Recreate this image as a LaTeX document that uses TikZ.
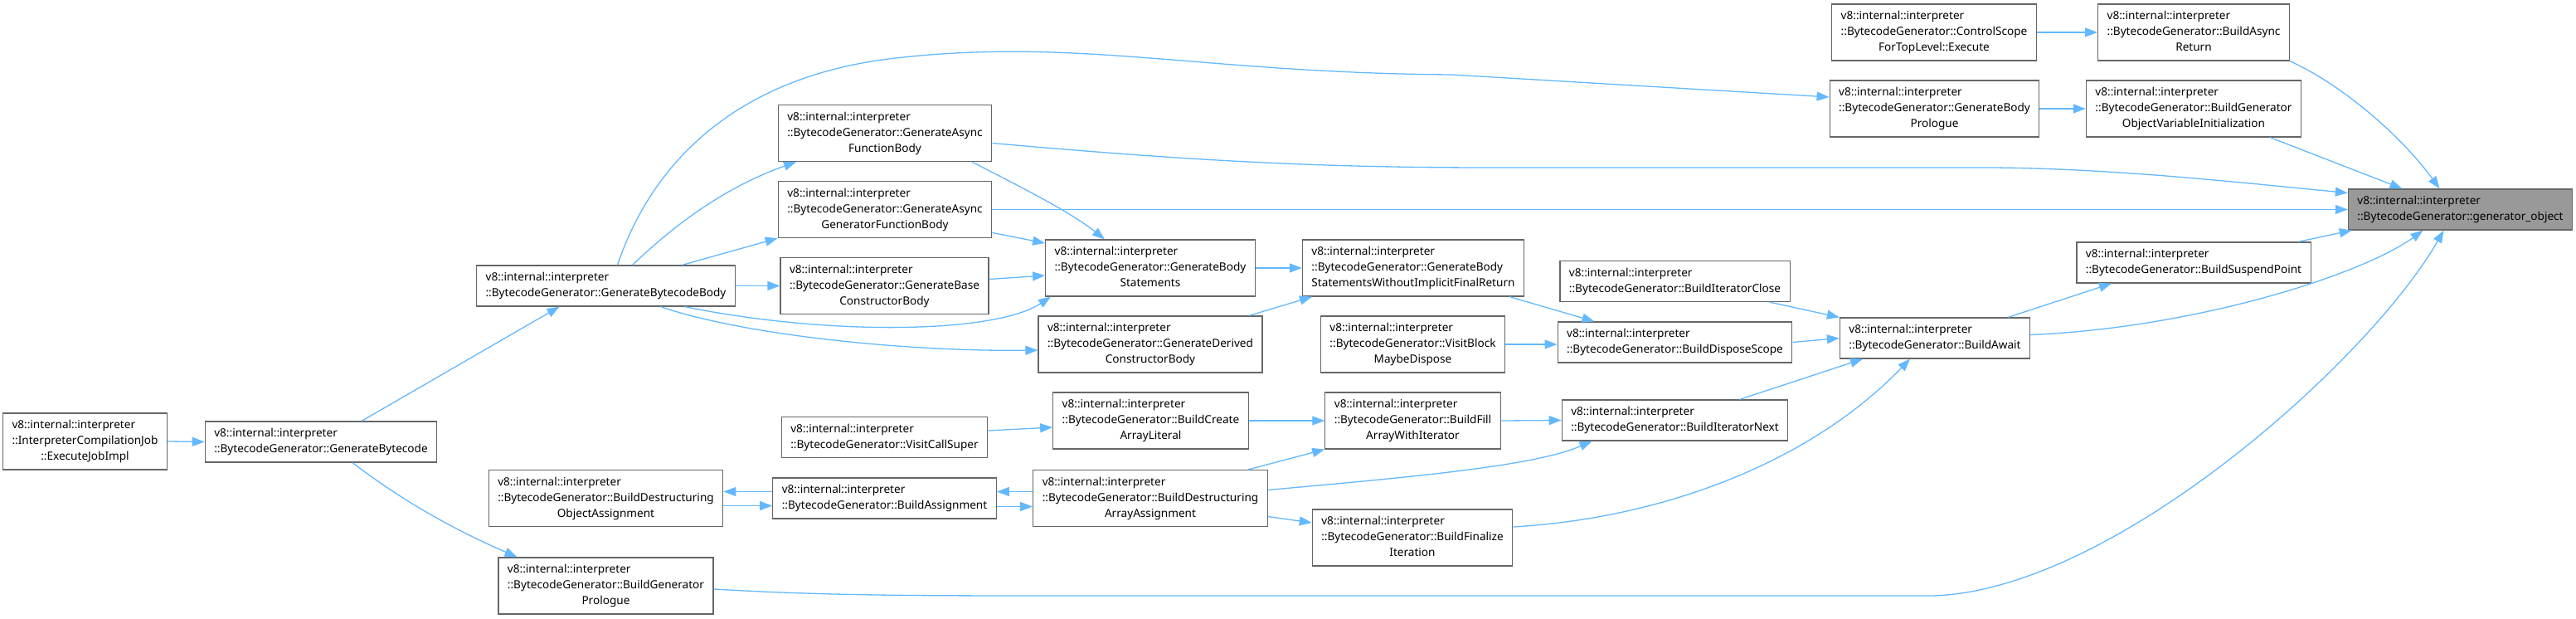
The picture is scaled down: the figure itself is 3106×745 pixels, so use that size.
\documentclass[tikz,border=0pt]{standalone}
\usepackage{fontspec}
\setmainfont{Noto Sans}
\usepackage{tikz}
\usetikzlibrary{arrows.meta}
\usetikzlibrary{calc}

\definecolor{edgeblue}{HTML}{63B8FF}
\definecolor{boxgray}{HTML}{666666}
\definecolor{selfgray}{HTML}{999999}

% label of one function box: first line is always the namespace
\newcommand{\calltwo}[1]{\begin{tabular}{@{}l@{}}v8::internal::interpreter\\#1\end{tabular}}
\newcommand{\callthree}[2]{\begin{tabular}{@{}l@{}}v8::internal::interpreter\\#1\\\multicolumn{1}{@{}c@{}}{#2}\end{tabular}}

\begin{document}
\begin{tikzpicture}[
    x=1pt, y=-1pt,
    font=\fontsize{13.6}{19}\selectfont,
    % function boxes
    fn/.style={rectangle, draw=boxgray, line width=1.2pt, fill=white, inner xsep=11pt, inner ysep=5.5pt},
    self/.style={fn, fill=selfgray},
    edge/.style={draw=edgeblue, line width=1.3pt, -{Triangle[length=15pt,width=11pt]}},
]
\useasboundingbox (0,0) rectangle (3106,745);

% =========================================================
% nodes (column by column, left to right)
% =========================================================
\node[fn] (execjob) at (102.5,532) {\callthree{::InterpreterCompilationJob}{::ExecuteJobImpl}};

\node[fn] (genbc) at (387,532.5) {\calltwo{::BytecodeGenerator::GenerateBytecode}};

\node[fn] (genbcbody) at (730.5,344.5) {\calltwo{::BytecodeGenerator::GenerateBytecodeBody}};
\node[fn] (destobj)   at (730.5,600.5) {\callthree{::BytecodeGenerator::BuildDestructuring}{ObjectAssignment}};
\node[fn] (genprol)   at (730.5,706)   {\callthree{::BytecodeGenerator::BuildGenerator}{Prologue}};

\node[fn] (asyncfn)   at (1067,160.5)   {\callthree{::BytecodeGenerator::GenerateAsync}{FunctionBody}};
\node[fn] (asyncgen)  at (1067,252.5)   {\callthree{::BytecodeGenerator::GenerateAsync}{GeneratorFunctionBody}};
\node[fn] (basector)  at (1066.5,344.5) {\callthree{::BytecodeGenerator::GenerateBase}{ConstructorBody}};
\node[fn] (callsuper) at (1066.5,527)   {\calltwo{::BytecodeGenerator::VisitCallSuper}};
\node[fn] (assign)    at (1066.5,600.5) {\calltwo{::BytecodeGenerator::BuildAssignment}};

\node[fn] (bodystmt)    at (1387,323)   {\callthree{::BytecodeGenerator::GenerateBody}{Statements}};
\node[fn] (derivedctor) at (1387,415)   {\callthree{::BytecodeGenerator::GenerateDerived}{ConstructorBody}};
\node[fn] (arrlit)      at (1387.5,507) {\callthree{::BytecodeGenerator::BuildCreate}{ArrayLiteral}};
\node[fn] (destarr)     at (1387,600.5) {\callthree{::BytecodeGenerator::BuildDestructuring}{ArrayAssignment}};

\node[fn] (bodynoret)  at (1704,323)   {\callthree{::BytecodeGenerator::GenerateBody}{StatementsWithoutImplicitFinalReturn}};
\node[fn] (visitblock) at (1703.5,415) {\callthree{::BytecodeGenerator::VisitBlock}{MaybeDispose}};
\node[fn] (fillarr)    at (1703.5,507) {\callthree{::BytecodeGenerator::BuildFill}{ArrayWithIterator}};
\node[fn] (finalize)   at (1703,648)   {\callthree{::BytecodeGenerator::BuildFinalize}{Iteration}};

\node[fn] (itclose) at (2019.5,339)   {\calltwo{::BytecodeGenerator::BuildIteratorClose}};
\node[fn] (dispose) at (2019.5,412.5) {\calltwo{::BytecodeGenerator::BuildDisposeScope}};
\node[fn] (itnext)  at (2019.5,506.5) {\calltwo{::BytecodeGenerator::BuildIteratorNext}};

\node[fn] (ctlscope) at (2332,39)    {\callthree{::BytecodeGenerator::ControlScope}{ForTopLevel::Execute}};
\node[fn] (bodyprol) at (2332.5,131) {\callthree{::BytecodeGenerator::GenerateBody}{Prologue}};
\node[fn] (await)    at (2333,407.5) {\calltwo{::BytecodeGenerator::BuildAwait}};

\node[fn] (asyncret)   at (2645,39)    {\callthree{::BytecodeGenerator::BuildAsync}{Return}};
\node[fn] (genobjinit) at (2645,131)   {\callthree{::BytecodeGenerator::BuildGenerator}{ObjectVariableInitialization}};
\node[fn] (suspend)    at (2645,316.5) {\calltwo{::BytecodeGenerator::BuildSuspendPoint}};

\node[self] (genobj) at (2966.5,252.5) {\calltwo{::BytecodeGenerator::generator\_object}};

% =========================================================
% calls (arrow points at the callee)
% =========================================================
\draw[edge] (execjob.east) -- (genbc.west);
\draw[edge] ([xshift=49]genbc.north) -- ([xshift=-56]genbcbody.south);
\draw[edge] ([xshift=38]genbc.south) .. controls (500,615) and (570,648) .. ([xshift=-107]genprol.north);

\draw[edge] ([xshift=32]genbcbody.north) .. controls (830,255) and (890,220) .. ([xshift=-107]asyncfn.south);
\draw[edge] ([xshift=92]genbcbody.north) -- (asyncgen.south west);
\draw[edge] (genbcbody.east) -- (basector.west);
\draw[edge] ([xshift=95]genbcbody.south) .. controls (1000,405) and (1200,402) .. ([xshift=-120]bodystmt.south);
\draw[edge] ([xshift=66]genbcbody.south) .. controls (900,405) and (1100,424) .. ([yshift=-7]derivedctor.west);
\draw[edge] ([xshift=14]genbcbody.north) .. controls (790,185) and (900,90) .. (1080,70)
    .. controls (1300,45) and (1450,88) .. (1750,90) -- ([yshift=14]bodyprol.west);

\draw[edge] ([yshift=-12]asyncfn.east) .. controls (1450,195) and (1600,202) .. (1800,202)
    -- (2400,202) .. controls (2550,203) and (2700,220) .. ([yshift=20]genobj.west);
\draw[edge] ([xshift=105]asyncfn.south) .. controls (1230,225) and (1290,255) .. ([xshift=-55]bodystmt.north);
\draw[edge] (asyncgen.east) -- (genobj.west);
\draw[edge] ([yshift=-28]asyncgen.east) -- ([yshift=30]bodystmt.west);
\draw[edge] ([yshift=8]basector.east) -- ([yshift=-9]bodystmt.west);

\draw[edge] (bodystmt.east) -- (bodynoret.west);
\draw[edge] ([xshift=119]derivedctor.north) -- ([xshift=-122]bodynoret.south);
\draw[edge] ([xshift=116]bodynoret.south) -- ([xshift=-97]dispose.north);
\draw[edge] (visitblock.east) -- (visitblock.east -| dispose.west);

\draw[edge] ([xshift=114]itclose.south) -- (await.north west);
\draw[edge] (dispose.east) -- (await.west);
\draw[edge] ([xshift=78]itnext.north) -- ([xshift=-87]await.south);
\draw[edge] ([yshift=13]finalize.east) .. controls (2000,625) and (2180,560) .. ([xshift=-30]await.south);

\draw[edge] ([xshift=88]await.north) -- ([xshift=-99]suspend.south);
\draw[edge] ([yshift=4]await.east) .. controls (2650,395) and (2850,330) .. ([xshift=-45]genobj.south);
\draw[edge] ([xshift=126]suspend.north) -- ([xshift=5]genobj.south west);
\draw[edge] (asyncret.south east) .. controls (2830,105) and (2900,170) .. ([xshift=-25]genobj.north);
\draw[edge] ([xshift=92]genobjinit.south) -- ([xshift=-70]genobj.north);
\draw[edge] (ctlscope.east) -- (asyncret.west);
\draw[edge] (bodyprol.east) -- (genobjinit.west);
\draw[edge] ([yshift=-4]genprol.east) .. controls (1000,718) and (1100,718) .. (1300,718)
    -- (2330,718) .. controls (2550,712) and (2860,430) .. ([xshift=-20]genobj.south);

\draw[edge] (arrlit.east) -- (fillarr.west);
\draw[edge] (fillarr.east) -- (itnext.west);
\draw[edge] ([yshift=8]callsuper.east) -- ([yshift=-8]arrlit.west);
\draw[edge] ([xshift=118]destarr.north) -- (fillarr.south west);
\draw[edge] ([yshift=10]destarr.east) .. controls (1700,575) and (1850,562) .. ([xshift=-100]itnext.south);
\draw[edge] ([yshift=-22]destarr.east) -- ([yshift=18]finalize.west);
\draw[edge] ([yshift=8]destarr.west) -- ([yshift=8]assign.east);
\draw[edge] ([yshift=-10]assign.east) -- ([yshift=-10]destarr.west);
\draw[edge] ([yshift=8]assign.west) -- ([yshift=8]destobj.east);
\draw[edge] ([yshift=-9]destobj.east) -- ([yshift=-9]assign.west);

\end{tikzpicture}
\end{document}
